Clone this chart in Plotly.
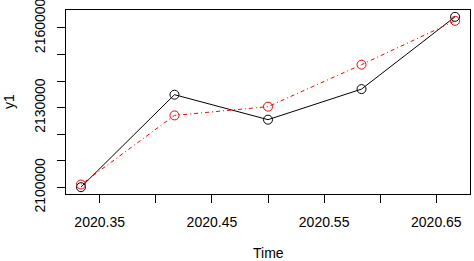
import plotly.graph_objects as go

time = [2020 + 4/12, 2020 + 5/12, 2020 + 6/12, 2020 + 7/12, 2020 + 8/12]
y1 = [2100100, 2134900, 2125500, 2137000, 2164200]
y2 = [2101100, 2127100, 2130400, 2146200, 2162700]

x_tickvals = [2020.35, 2020.40, 2020.45, 2020.50, 2020.55, 2020.60, 2020.65]
x_ticktext = ["2020.35", "", "2020.45", "", "2020.55", "", "2020.65"]
y_tickvals = [2100000, 2110000, 2120000, 2130000, 2140000, 2150000, 2160000]
y_ticktext = ["2100000", "", "", "2130000", "", "", "2160000"]

allv = y1 + y2
ymin, ymax = min(allv), max(allv)
yd = (ymax - ymin) * 0.04
xd = (max(time) - min(time)) * 0.04

font = dict(family="Liberation Sans, Arial, sans-serif", size=14, color="black")

fig = go.Figure()
fig.add_trace(go.Scatter(
    x=time, y=y1, mode="lines+markers", name="y1",
    line=dict(color="black", width=1),
    marker=dict(symbol="circle-open", size=9, color="black", line=dict(width=1)),
    cliponaxis=False,
))
fig.add_trace(go.Scatter(
    x=time, y=y2, mode="lines+markers", name="y2",
    line=dict(color="#FF0000", width=1, dash="1px,3px,4px,3px"),
    marker=dict(symbol="circle-open", size=9, color="#FF0000", line=dict(width=1)),
    cliponaxis=False,
))

fig.update_layout(
    width=474, height=261,
    margin=dict(l=66, r=4, t=10, b=67, autoexpand=False),
    paper_bgcolor="white", plot_bgcolor="white",
    showlegend=False, font=font,
    xaxis=dict(
        range=[min(time) - xd, max(time) + xd],
        tickvals=x_tickvals, ticktext=x_ticktext, automargin=False,
        ticks="outside", ticklen=8, tickcolor="black", tickwidth=1,
        showline=True, linecolor="black", linewidth=1, mirror=True,
        showgrid=False, zeroline=False, tickfont=font, ticklabeloverflow="allow",
        ticklabelstandoff=7,
    ),
    yaxis=dict(
        range=[ymin - yd, ymax + yd],
        tickvals=y_tickvals, ticktext=y_ticktext, tickangle=-90, automargin=False,
        ticks="outside", ticklen=8, tickcolor="black", tickwidth=1,
        showline=True, linecolor="black", linewidth=1, mirror=True,
        showgrid=False, zeroline=False, tickfont=font, ticklabelposition="outside",
        ticklabeloverflow="allow", ticklabelstandoff=6,
    ),
    annotations=[
        dict(text="Time", xref="paper", yref="paper", x=0.5, y=(194 - 253) / 184,
             xanchor="center", yanchor="middle", showarrow=False, font=font),
        dict(text="y1", xref="paper", yref="paper", x=(9 - 66) / 404, y=0.5,
             xanchor="center", yanchor="middle", textangle=-90, showarrow=False, font=font),
    ],
)

fig.write_html("out.html", config={"displayModeBar": False},
               post_script="document.body.style.margin='0px';")
